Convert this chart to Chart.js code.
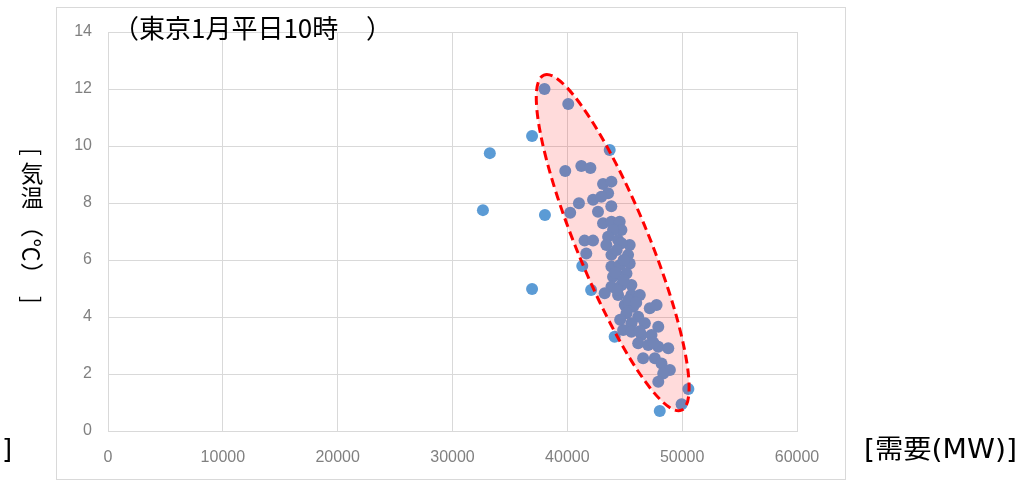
<!DOCTYPE html>
<html lang="ja">
<head>
<meta charset="utf-8">
<title>東京1月平日10時 需要と気温</title>
<script src="https://cdn.jsdelivr.net/npm/chart.js@4.4.1/dist/chart.umd.min.js"></script>
<style>
  html, body { margin: 0; padding: 0; background: #ffffff; }
  #wrap { width: 1035px; height: 482px; }
</style>
</head>
<body>
<div id="wrap"><canvas id="c" width="1035" height="482"></canvas></div>
<script>
// Demand (MW) and temperature (°C) for weekday 10:00 readings in January, Tokyo
const demandMW = [
  33250, 36930, 32650, 38050, 36930, 48050,
  41300, 42070, 44120, 50540, 49950, 43690,
  38010, 40080, 39820, 41220, 42010,
  43110, 43840, 43550, 41010, 40250, 42240, 42960, 42670, 43830, 43110,
  43840, 44560, 44710, 43980, 41500, 42240, 43550, 44420, 45430, 43400,
  41650, 44710, 43840, 45290, 43840, 44560, 45430, 43980, 45150, 43840,
  44710, 45580, 43250, 44420, 45580, 46310,
  47770, 47180, 45000, 45730, 45150, 46170, 45580, 46750, 47920, 44860,
  45580, 46460, 47330, 46170, 47040, 47920, 48790,
  46600, 47620, 48200, 48930, 48350, 47920,
  44300, 44900, 44200, 44900, 44350, 45300, 46000, 44600, 46300, 47500
];
const temperatureC = [
  9.75, 10.35, 7.75, 7.58, 4.98, 0.70,
  5.79, 4.95, 3.31, 1.47, 0.94, 9.86,
  12.00, 11.47, 9.12, 9.30, 9.23,
  8.67, 8.75, 8.34, 7.99, 7.66, 8.11, 8.22, 7.69, 7.89, 7.29,
  7.34, 7.34, 7.05, 7.05, 6.68, 6.68, 6.82, 6.70, 6.53, 6.53,
  6.23, 6.59, 6.18, 6.18, 5.77, 5.82, 5.88, 5.41, 5.53, 5.06,
  5.12, 5.12, 4.83, 4.77, 4.77, 4.77,
  4.42, 4.31, 4.42, 4.36, 4.13, 4.01, 3.78, 3.78, 3.66, 3.54,
  3.48, 3.37, 3.37, 3.08, 3.02, 2.96, 2.90,
  2.55, 2.55, 2.37, 2.14, 2.02, 1.73,
  6.35, 6.00, 5.55, 5.30, 4.95, 4.60, 4.50, 3.90, 3.50, 3.10
];

// Axis ticks
const xTicks = [0, 10000, 20000, 30000, 40000, 50000, 60000];
const yTicks = [0, 2, 4, 6, 8, 10, 12, 14];

// Text
const titleMain = '（東京1月平日10時';
const titleClose = '）';
const xAxisTitle = '[需要(MW)]';
const yAxisChars = ['[', '気', '温', '（', '℃', '）', ']'];
const uprightChars = new Set(['気', '温']);

// Highlight ellipse around the main cluster (centre and upper tip in data units)
const clusterCenter = { x: 43950, y: 6.61 };
const clusterTip = { x: 37960, y: 12.49 };

const points = demandMW.map((x, i) => ({ x: x, y: temperatureC[i] }));

const CJK = "'Noto Sans CJK JP', 'Noto Sans', sans-serif";

const frame = {
  id: 'frame',
  beforeDraw(chart) {
    const ctx = chart.ctx;
    ctx.save();
    ctx.fillStyle = '#ffffff';
    ctx.fillRect(0, 0, chart.width, chart.height);
    ctx.strokeStyle = '#d9d9d9';
    ctx.lineWidth = 1;
    ctx.strokeRect(56.5, 7.5, 789, 472);
    ctx.restore();
  }
};

const clusterEllipse = {
  id: 'clusterEllipse',
  afterDatasetsDraw(chart) {
    const xs = chart.scales.x, ys = chart.scales.y;
    const cx = xs.getPixelForValue(clusterCenter.x);
    const cy = ys.getPixelForValue(clusterCenter.y);
    const tx = xs.getPixelForValue(clusterTip.x);
    const ty = ys.getPixelForValue(clusterTip.y);
    const a = Math.hypot(tx - cx, ty - cy);
    const ang = Math.atan2(ty - cy, tx - cx);
    const b = 36;
    const ctx = chart.ctx;
    ctx.save();
    ctx.beginPath();
    ctx.ellipse(cx, cy, a, b, ang, 0, Math.PI * 2);
    ctx.fillStyle = 'rgba(255, 0, 0, 0.14)';
    ctx.fill();
    ctx.setLineDash([9, 5]);
    ctx.lineWidth = 3;
    ctx.strokeStyle = '#ff0000';
    ctx.stroke();
    ctx.restore();
  }
};

const labels = {
  id: 'labels',
  afterDraw(chart) {
    const ctx = chart.ctx;
    ctx.save();
    ctx.fillStyle = '#000000';
    ctx.textBaseline = 'middle';
    ctx.textAlign = 'left';

    // Title
    ctx.font = '26px ' + CJK;
    ctx.fillText(titleMain, 113, 28);
    ctx.fillText(titleClose, 366, 28);

    // X axis title, stretched to its box width
    ctx.font = "26px 'DejaVu Sans', " + CJK;
    const w = ctx.measureText(xAxisTitle).width;
    ctx.save();
    ctx.translate(864, 451);
    ctx.scale(153 / w, 1);
    ctx.fillText(xAxisTitle, 0, 0);
    ctx.restore();

    // Stray closing bracket at lower left
    ctx.fillText(']', 2, 451);

    // Y axis title, written top to bottom
    const centers = [152, 173, 197, 226, 250, 274, 300];
    ctx.font = '23px ' + CJK;
    ctx.textAlign = 'center';
    yAxisChars.forEach((ch, i) => {
      ctx.save();
      ctx.translate(32, centers[i]);
      if (!uprightChars.has(ch)) ctx.rotate(Math.PI / 2);
      ctx.fillText(ch, 0, 0);
      ctx.restore();
    });
    ctx.restore();
  }
};

const tickFont = { family: "'Liberation Sans', Arial, sans-serif", size: 16 };

new Chart(document.getElementById('c'), {
  type: 'scatter',
  data: {
    datasets: [{
      data: points,
      backgroundColor: '#5b9bd5',
      borderColor: '#5b9bd5',
      borderWidth: 0,
      pointRadius: 6,
      pointHoverRadius: 6
    }]
  },
  options: {
    responsive: false,
    animation: false,
    events: [],
    layout: { padding: { left: 0, right: 238, top: 32, bottom: 0 } },
    plugins: { legend: { display: false }, tooltip: { enabled: false }, title: { display: false } },
    scales: {
      x: {
        type: 'linear',
        min: xTicks[0],
        max: xTicks[xTicks.length - 1],
        afterBuildTicks: s => { s.ticks = xTicks.map(v => ({ value: v })); },
        afterFit: s => { s.height = 51; },
        ticks: { font: tickFont, color: '#808080', padding: 17, maxRotation: 0, callback: v => String(v) },
        grid: { color: '#d9d9d9', lineWidth: 1, drawTicks: false },
        border: { color: '#d9d9d9', width: 1 }
      },
      y: {
        type: 'linear',
        min: yTicks[0],
        max: yTicks[yTicks.length - 1],
        afterBuildTicks: s => { s.ticks = yTicks.map(v => ({ value: v })); },
        afterFit: s => { s.width = 108; },
        ticks: { font: tickFont, color: '#808080', padding: 16, callback: v => String(v) },
        grid: { color: '#d9d9d9', lineWidth: 1, drawTicks: false },
        border: { color: '#d9d9d9', width: 1 }
      }
    }
  },
  plugins: [frame, clusterEllipse, labels]
});
</script>
</body>
</html>
